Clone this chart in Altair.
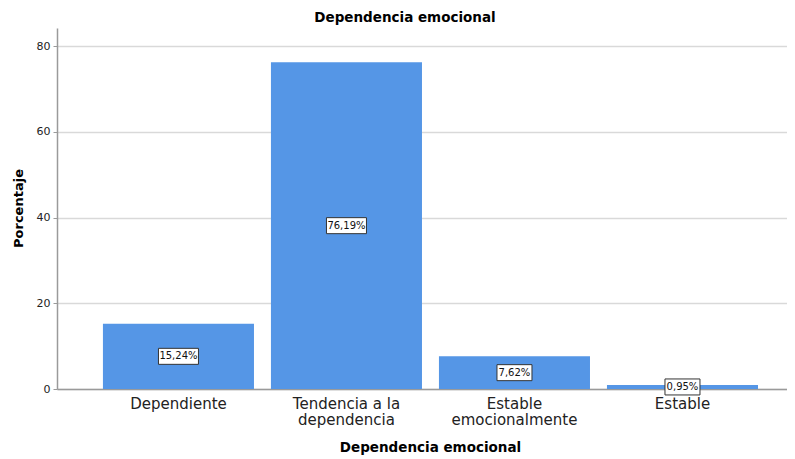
import altair as alt
import pandas as pd

categories = ["Dependiente", "Tendencia a la dependencia", "Estable emocionalmente", "Estable"]
percentages = [15.24, 76.19, 7.62, 0.95]
labels = ["15,24%", "76,19%", "7,62%", "0,95%"]

df = pd.DataFrame({"cat": categories, "pct": percentages, "label": labels})

FONT = "DejaVu Sans"
BLUE = "#5596E6"

label_expr = (
    "datum.value == 'Tendencia a la dependencia' ? ['Tendencia a la', 'dependencia'] : "
    "datum.value == 'Estable emocionalmente' ? ['Estable', 'emocionalmente'] : datum.value"
)

x = alt.X(
    "cat:N",
    sort=categories,
    title="Dependencia emocional",
    scale=alt.Scale(paddingInner=0.101, paddingOuter=0.223, align=0.613),
    axis=alt.Axis(
        labelAngle=0, labelExpr=label_expr, labelFont=FONT, labelFontSize=15,
        labelColor="#222222", labelLineHeight=16, labelPadding=7,
        ticks=False, grid=False, domainColor="#9a9a9a", domainWidth=1.5,
        titleFont=FONT, titleFontSize=13.5, titleFontWeight="bold", titleColor="#000000",
        titleX=373, titleY=58, titleBaseline="middle", titleAnchor="start", titleAlign="center",
    ),
)

y_axis = alt.Axis(
    values=[0, 20, 40, 60, 80], grid=True, gridColor="#d9d9d9", gridWidth=1.5,
    domainColor="#9a9a9a", domainWidth=1.5, tickColor="#9a9a9a", tickSize=4,
    labelFont=FONT, labelFontSize=11, labelColor="#222222", labelPadding=3,
    titleFont=FONT, titleFontSize=13, titleFontWeight="bold", titleColor="#000000",
    titleX=-39, titleY=180, titleBaseline="middle", titleAngle=270, titleAlign="center",
)
y_scale = alt.Scale(domain=[0, 84.2], nice=False, zero=True)

base = alt.Chart(df)

bars = base.mark_bar(color=BLUE).encode(
    x=x,
    y=alt.Y("pct:Q", title="Porcentaje", scale=y_scale, axis=y_axis),
)

path6 = "M-1,-0.4L1,-0.4L1,0.4L-1,0.4Z"
path5 = "M-1,-0.457L1,-0.457L1,0.457L-1,0.457Z"

boxes = base.transform_calculate(
    mid="datum.pct / 2", n="length(datum.label)"
).mark_point(fill="white", stroke="#333333", strokeWidth=1, opacity=1, filled=False).encode(
    x=alt.X("cat:N", sort=categories),
    y=alt.Y("mid:Q", scale=y_scale),
    shape=alt.Shape("n:O", scale=alt.Scale(domain=[5, 6], range=[path5, path6]), legend=None),
    size=alt.Size("n:O", scale=alt.Scale(domain=[5, 6], range=[1225, 1600]), legend=None),
)

texts = base.transform_calculate(mid="datum.pct / 2").mark_text(
    font=FONT, fontSize=10, color="#111111", baseline="middle", align="center"
).encode(
    x=alt.X("cat:N", sort=categories),
    y=alt.Y("mid:Q", scale=y_scale),
    text="label:N",
)

chart = alt.layer(bars, boxes, texts).properties(
    width=730,
    height=361,
    autosize=alt.AutoSizeParams(type="none"),
    padding={"left": 49, "top": 20, "right": 0, "bottom": 66},
    title=alt.TitleParams(
        "Dependencia emocional", font=FONT, fontSize=13.5, fontWeight="bold",
        color="#000000", anchor="middle", offset=4, dx=-17,
    ),
).configure_view(stroke=None)

chart.save("out.html", embed_options={"renderer": "svg", "actions": False})
